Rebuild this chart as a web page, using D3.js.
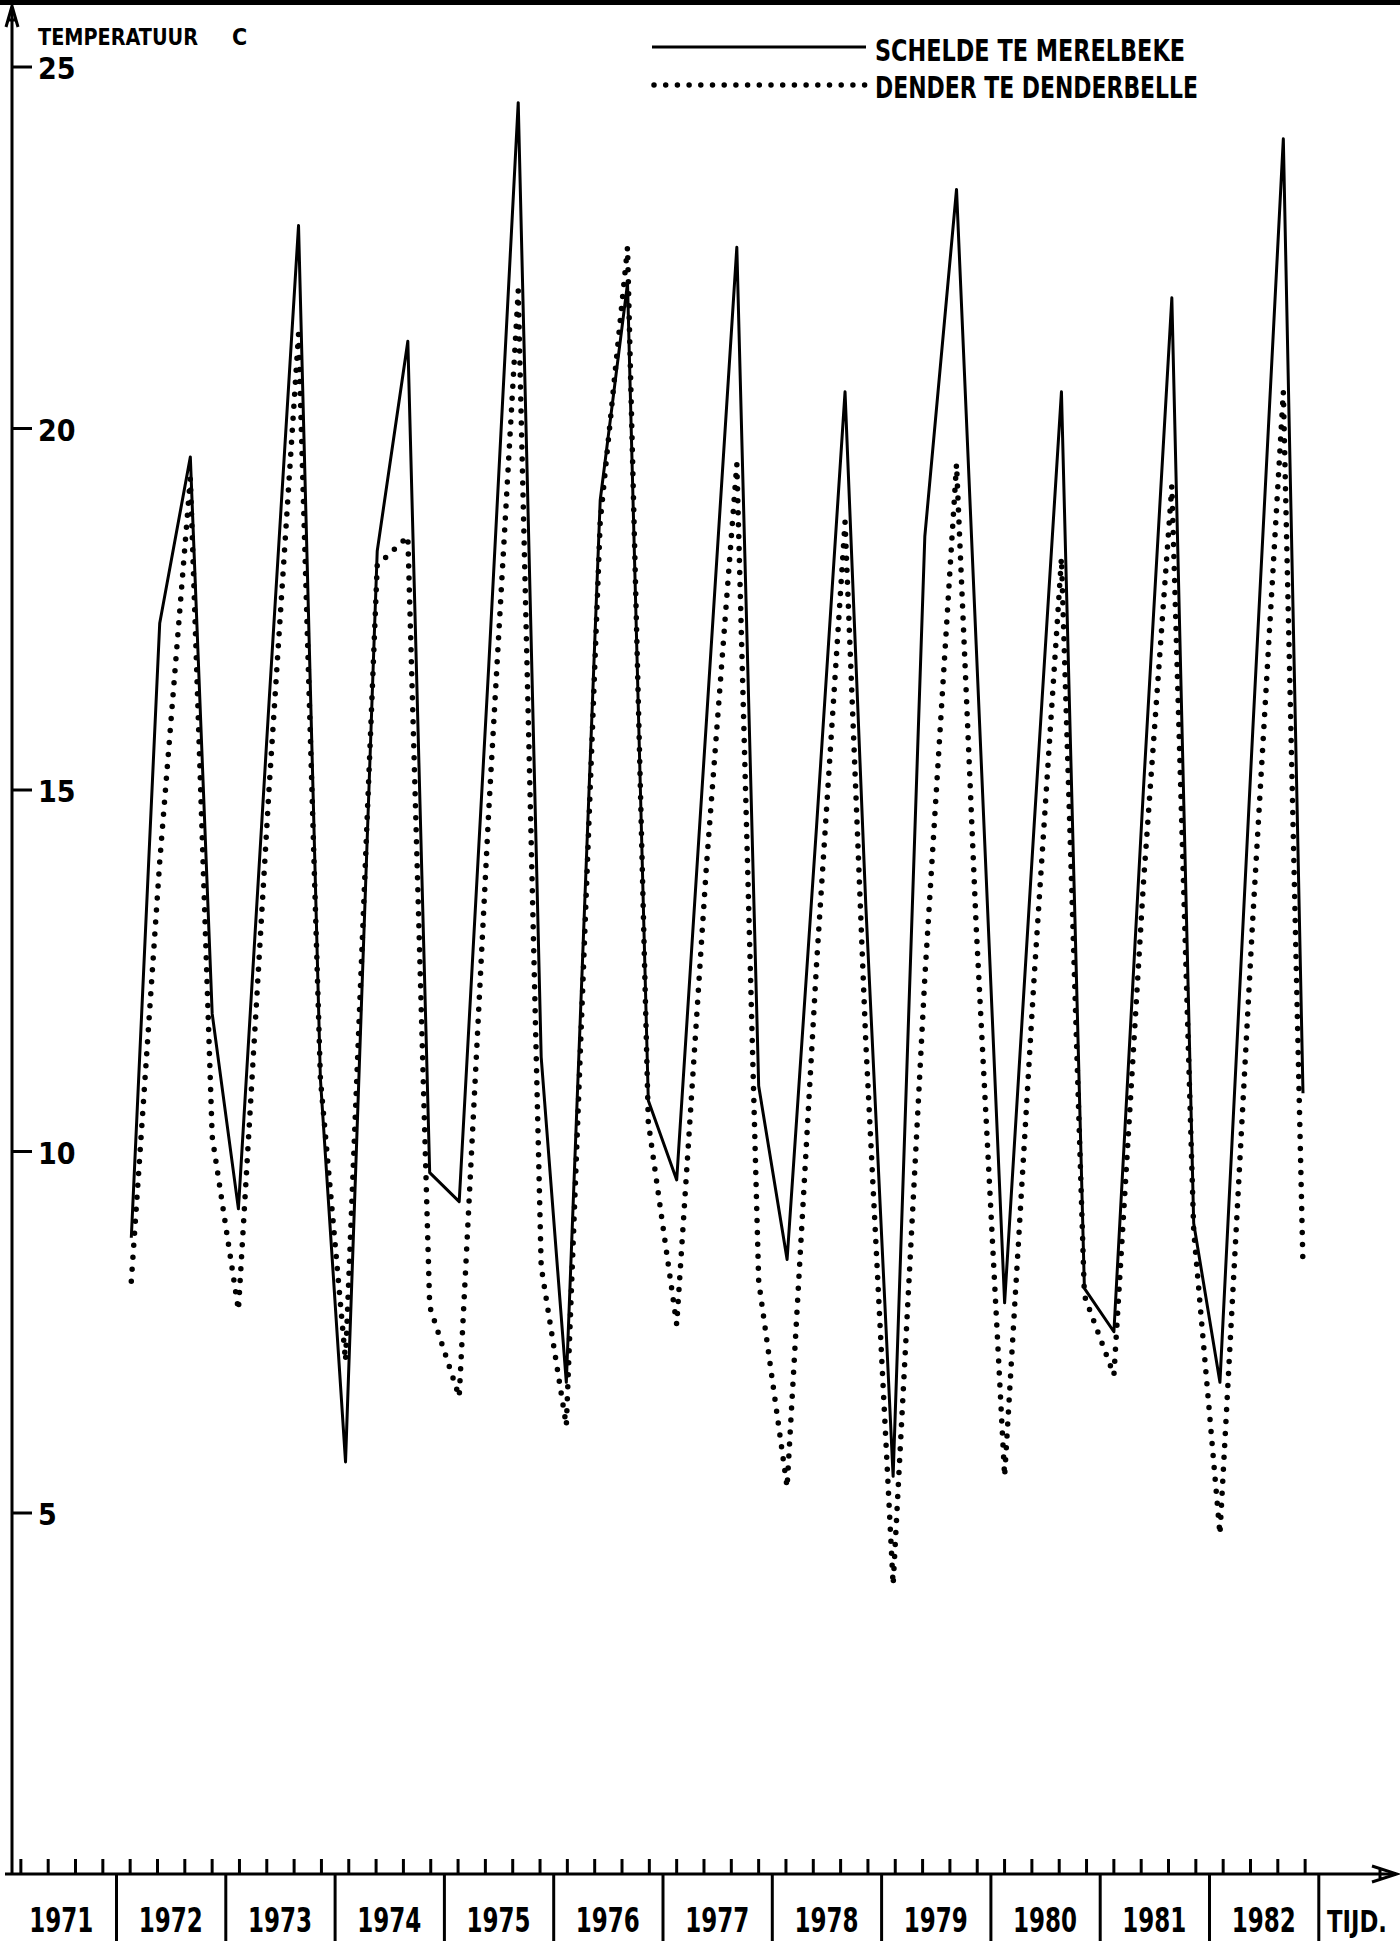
<!DOCTYPE html>
<html>
<head>
<meta charset="utf-8">
<script src="https://cdn.jsdelivr.net/npm/d3@7"></script>
<style>
  body { margin: 0; background: #fff; }
  text { font-family: "Liberation Sans Narrow", "DejaVu Sans Condensed", sans-serif; font-weight: bold; fill: #000; }
</style>
</head>
<body>
<script>
const width = 1400;
const height = 1941;

// years on the time axis (one cell per year)
const years = [1971, 1972, 1973, 1974, 1975, 1976, 1977, 1978, 1979, 1980, 1981, 1982];
const yearLabels = ['1971', '1972', '1973', '1974', '1975', '1976', '1977', '1978', '1979', '1980', '1981', '1982'];
const yTicks = [5, 10, 15, 20, 25];

// sampling moments (decimal years), four per year
const sampleTimes = [
  1972.14, 1972.40, 1972.68, 1972.88,
  1973.12, 1973.40, 1973.67, 1973.87,
  1974.10, 1974.39, 1974.67, 1974.87,
  1975.14, 1975.41, 1975.68, 1975.89,
  1976.12, 1976.43, 1976.68, 1976.87,
  1977.13, 1977.40, 1977.68, 1977.88,
  1978.14, 1978.41, 1978.67, 1978.86,
  1979.11, 1979.40, 1979.69, 1979.87,
  1980.13, 1980.40, 1980.65, 1980.86,
  1981.13, 1981.40, 1981.66, 1981.86,
  1982.10, 1982.40, 1982.68, 1982.86
];

// Schelde te Merelbeke (solid)
const schelde = [
  8.8, 17.3, 19.6, 11.9,
  9.2, 16.2, 22.8, 11.0,
  5.7, 18.3, 21.2, 9.7,
  9.3, 16.7, 24.5, 11.3,
  6.8, 19.0, 22.0, 10.7,
  9.6, 15.9, 22.5, 10.9,
  8.5, 14.5, 20.5, 13.4,
  5.5, 18.5, 23.3, 17.0,
  7.9, 14.5, 20.5, 8.1,
  7.5, 15.0, 21.8, 9.0,
  6.8, 15.8, 24.0, 10.8
];

// Dender te Denderbelle (dotted)
const dender = [
  8.2, 14.0, 19.3, 10.2,
  7.8, 15.0, 21.3, 11.0,
  7.1, 18.1, 18.5, 7.85,
  6.6, 14.7, 21.9, 8.4,
  6.2, 18.7, 22.5, 10.4,
  7.6, 13.9, 19.5, 8.2,
  5.35, 12.6, 18.7, 11.5,
  4.0, 12.4, 19.5, 13.1,
  5.5, 12.4, 18.2, 8.0,
  6.9, 13.7, 19.2, 8.9,
  4.7, 13.2, 20.5, 8.4
];

let svg = d3.select('body')
    .append('svg')
    .attr('width', width)
    .attr('height', height);

// scanned page edge along the top
svg.append('rect')
    .attr('x', 0).attr('y', 0)
    .attr('width', width).attr('height', 5)
    .attr('fill', '#000');

let xScale = d3.scaleLinear()
    .domain([1971, 1983])
    .range([6.7, 1318.3]);

let yScale = d3.scaleLinear()
    .domain([0, 25])
    .range([1874, 66.5]);

const axisX = 12;
const axisY = yScale(0);

// y axis with arrow
svg.append('line')
    .attr('x1', axisX).attr('x2', axisX)
    .attr('y1', axisY).attr('y2', 8)
    .attr('stroke', '#000').attr('stroke-width', 3);
svg.append('path')
    .attr('d', `M${axisX - 6},27 L${axisX},6 L${axisX + 6},27 M${axisX - 4},20 L${axisX + 4},20`)
    .attr('fill', 'none').attr('stroke', '#000').attr('stroke-width', 3);

let yAxis = d3.axisRight(yScale)
    .tickValues(yTicks)
    .tickSize(20)
    .tickPadding(6)
    .tickFormat(d3.format('d'));

let yAxisGroup = svg.append('g')
    .attr('transform', `translate(${axisX}, 0)`)
    .call(yAxis);
yAxisGroup.select('.domain').remove();
yAxisGroup.selectAll('line').attr('stroke', '#000').attr('stroke-width', 3);
yAxisGroup.selectAll('text')
    .attr('font-size', 30)
    .attr('dy', '0.4em')
    .attr('font-family', null)
    .attr('fill', '#000');

svg.append('text')
    .attr('x', 38).attr('y', 45)
    .attr('font-size', 23)
    .attr('textLength', 160).attr('lengthAdjust', 'spacingAndGlyphs')
    .text('TEMPERATUUR');
svg.append('text')
    .attr('x', 232).attr('y', 45)
    .attr('font-size', 23)
    .text('C');

// x axis with arrow
svg.append('line')
    .attr('x1', 5).attr('x2', 1396)
    .attr('y1', axisY).attr('y2', axisY)
    .attr('stroke', '#000').attr('stroke-width', 3);
svg.append('path')
    .attr('d', `M1372,${axisY - 8} L1397,${axisY} L1372,${axisY + 8} M1380,${axisY - 5} L1380,${axisY + 5}`)
    .attr('fill', 'none').attr('stroke', '#000').attr('stroke-width', 3);

// quarter ticks above the axis
let quarterTicks = [];
years.forEach(yr => [0.125, 0.375, 0.625, 0.875].forEach(q => quarterTicks.push(yr + q)));

let qAxis = d3.axisTop(xScale)
    .tickValues(quarterTicks)
    .tickSize(15)
    .tickFormat('');
let qGroup = svg.append('g')
    .attr('transform', `translate(0, ${axisY})`)
    .call(qAxis);
qGroup.select('.domain').remove();
qGroup.selectAll('line').attr('stroke', '#000').attr('stroke-width', 3);

// year separators below the axis
let sepAxis = d3.axisBottom(xScale)
    .tickValues(d3.range(1972, 1984))
    .tickSize(height - axisY)
    .tickFormat('');
let sepGroup = svg.append('g')
    .attr('transform', `translate(0, ${axisY})`)
    .call(sepAxis);
sepGroup.select('.domain').remove();
sepGroup.selectAll('line').attr('stroke', '#000').attr('stroke-width', 3);

svg.append('g')
    .selectAll('text')
    .data(years)
    .join('text')
    .attr('x', (d) => xScale(d + 0.5))
    .attr('y', 1932)
    .attr('text-anchor', 'middle')
    .attr('font-size', 33)
    .attr('textLength', 64).attr('lengthAdjust', 'spacingAndGlyphs')
    .text((d, i) => yearLabels[i]);

svg.append('text')
    .attr('x', 1327).attr('y', 1932)
    .attr('font-size', 30)
    .attr('textLength', 60).attr('lengthAdjust', 'spacingAndGlyphs')
    .text('TIJD.');

// series
let line = d3.line()
    .x((d) => xScale(d.t))
    .y((d) => yScale(d.v));

let scheldeData = sampleTimes.map((t, i) => ({ t: t, v: schelde[i] }));
let denderData = sampleTimes.map((t, i) => ({ t: t, v: dender[i] }));

let plot = svg.append('g').classed('series', true);

plot.append('path')
    .datum(denderData)
    .attr('d', line)
    .attr('fill', 'none')
    .attr('stroke', '#000')
    .attr('stroke-width', 5.5)
    .attr('stroke-linecap', 'round')
    .attr('stroke-linejoin', 'round')
    .attr('stroke-dasharray', '0 12');

plot.append('path')
    .datum(scheldeData)
    .attr('d', line)
    .attr('fill', 'none')
    .attr('stroke', '#000')
    .attr('stroke-width', 3)
    .attr('stroke-linejoin', 'round');

// legend
let legend = svg.append('g').classed('legend', true);
legend.append('line')
    .attr('x1', 652).attr('x2', 866)
    .attr('y1', 47).attr('y2', 47)
    .attr('stroke', '#000').attr('stroke-width', 3);
legend.append('text')
    .attr('x', 875).attr('y', 61)
    .attr('font-size', 31)
    .attr('textLength', 310).attr('lengthAdjust', 'spacingAndGlyphs')
    .text('SCHELDE TE MERELBEKE');
legend.append('line')
    .attr('x1', 654).attr('x2', 866)
    .attr('y1', 85).attr('y2', 85)
    .attr('stroke', '#000').attr('stroke-width', 5.5)
    .attr('stroke-linecap', 'round')
    .attr('stroke-dasharray', '0 11.7');
legend.append('text')
    .attr('x', 875).attr('y', 98)
    .attr('font-size', 31)
    .attr('textLength', 323).attr('lengthAdjust', 'spacingAndGlyphs')
    .text('DENDER TE DENDERBELLE');
</script>
</body>
</html>
